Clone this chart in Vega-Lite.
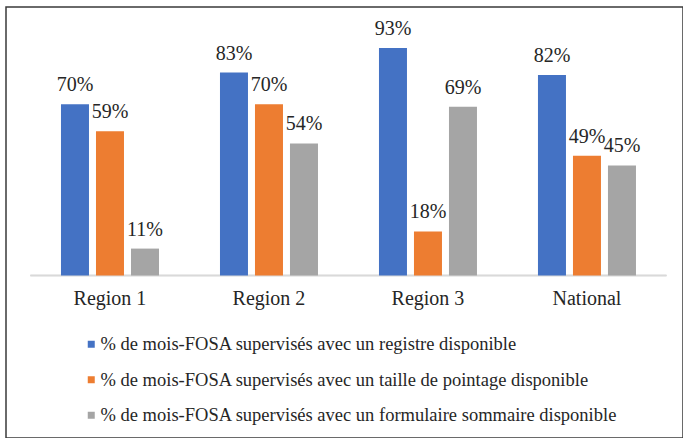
{
  "$schema": "https://vega.github.io/schema/vega-lite/v6.json",
  "width": 677,
  "height": 431,
  "autosize": {"type": "none"},
  "padding": {"left": 6, "top": 7, "right": 0, "bottom": 0},
  "background": "white",
  "config": {
    "view": {"stroke": "#3a3a3a", "strokeWidth": 1.5},
    "font": "Liberation Serif"
  },
  "data": {
    "values": [
      {"region": "Region 1", "series": "% de mois-FOSA supervisés avec un registre disponible", "v": 0.70},
      {"region": "Region 1", "series": "% de mois-FOSA supervisés avec un taille de pointage disponible", "v": 0.59},
      {"region": "Region 1", "series": "% de mois-FOSA supervisés avec un formulaire sommaire disponible", "v": 0.11},
      {"region": "Region 2", "series": "% de mois-FOSA supervisés avec un registre disponible", "v": 0.83},
      {"region": "Region 2", "series": "% de mois-FOSA supervisés avec un taille de pointage disponible", "v": 0.70},
      {"region": "Region 2", "series": "% de mois-FOSA supervisés avec un formulaire sommaire disponible", "v": 0.54},
      {"region": "Region 3", "series": "% de mois-FOSA supervisés avec un registre disponible", "v": 0.93},
      {"region": "Region 3", "series": "% de mois-FOSA supervisés avec un taille de pointage disponible", "v": 0.18},
      {"region": "Region 3", "series": "% de mois-FOSA supervisés avec un formulaire sommaire disponible", "v": 0.69},
      {"region": "National", "series": "% de mois-FOSA supervisés avec un registre disponible", "v": 0.82},
      {"region": "National", "series": "% de mois-FOSA supervisés avec un taille de pointage disponible", "v": 0.49},
      {"region": "National", "series": "% de mois-FOSA supervisés avec un formulaire sommaire disponible", "v": 0.45}
    ]
  },
  "encoding": {
    "x": {
      "field": "region",
      "type": "nominal",
      "sort": ["Region 1", "Region 2", "Region 3", "National"],
      "scale": {"paddingInner": 0.3836, "paddingOuter": 0.3208, "align": 0.539},
      "axis": {
        "title": null,
        "labelAngle": 0,
        "labelFont": "Liberation Serif",
        "labelFontSize": 20,
        "labelColor": "#262626",
        "ticks": false,
        "domain": false,
        "grid": false,
        "offset": -162.5,
        "labelPadding": 13
      }
    },
    "y": {
      "type": "quantitative",
      "scale": {"domain": [-0.6646, 1.098], "nice": false, "zero": false},
      "axis": null
    }
  },
  "layer": [
    {
      "mark": {"type": "rule", "color": "#d9d9d9", "strokeWidth": 1.5},
      "encoding": {
        "x": {"field": "region", "type": "nominal", "sort": ["Region 1", "Region 2", "Region 3", "National"], "bandPosition": -0.3112},
        "x2": {"field": "region", "bandPosition": 1.3112},
        "y": {"datum": 0}
      }
    },
    {
      "mark": {"type": "bar"},
      "encoding": {
        "xOffset": {
          "field": "series",
          "type": "nominal",
          "sort": [
            "% de mois-FOSA supervisés avec un registre disponible",
            "% de mois-FOSA supervisés avec un taille de pointage disponible",
            "% de mois-FOSA supervisés avec un formulaire sommaire disponible"
          ],
          "scale": {"paddingInner": 0.2, "paddingOuter": 0}
        },
        "y": {"field": "v", "type": "quantitative"},
        "y2": {"datum": 0},
        "color": {
          "field": "series",
          "type": "nominal",
          "scale": {
            "domain": [
              "% de mois-FOSA supervisés avec un registre disponible",
              "% de mois-FOSA supervisés avec un taille de pointage disponible",
              "% de mois-FOSA supervisés avec un formulaire sommaire disponible"
            ],
            "range": ["#4472C4", "#ED7D31", "#A5A5A5"]
          },
          "legend": {
            "title": null,
            "orient": "none",
            "legendX": 76,
            "legendY": 328,
            "padding": 0,
            "direction": "vertical",
            "symbolType": "square",
            "symbolSize": 49,
            "symbolStrokeWidth": 0,
            "labelFont": "Liberation Serif",
            "labelFontSize": 18.5,
            "labelColor": "#262626",
            "labelLimit": 0,
            "labelOffset": 0,
            "rowPadding": 16.5
          }
        }
      }
    },
    {
      "mark": {"type": "text", "dy": -13, "baseline": "alphabetic", "fontSize": 20, "color": "#262626", "font": "Liberation Serif"},
      "encoding": {
        "xOffset": {
          "field": "series",
          "type": "nominal",
          "sort": [
            "% de mois-FOSA supervisés avec un registre disponible",
            "% de mois-FOSA supervisés avec un taille de pointage disponible",
            "% de mois-FOSA supervisés avec un formulaire sommaire disponible"
          ]
        },
        "y": {"field": "v", "type": "quantitative"},
        "text": {"field": "v", "type": "quantitative", "format": ".0%"}
      }
    }
  ]
}
